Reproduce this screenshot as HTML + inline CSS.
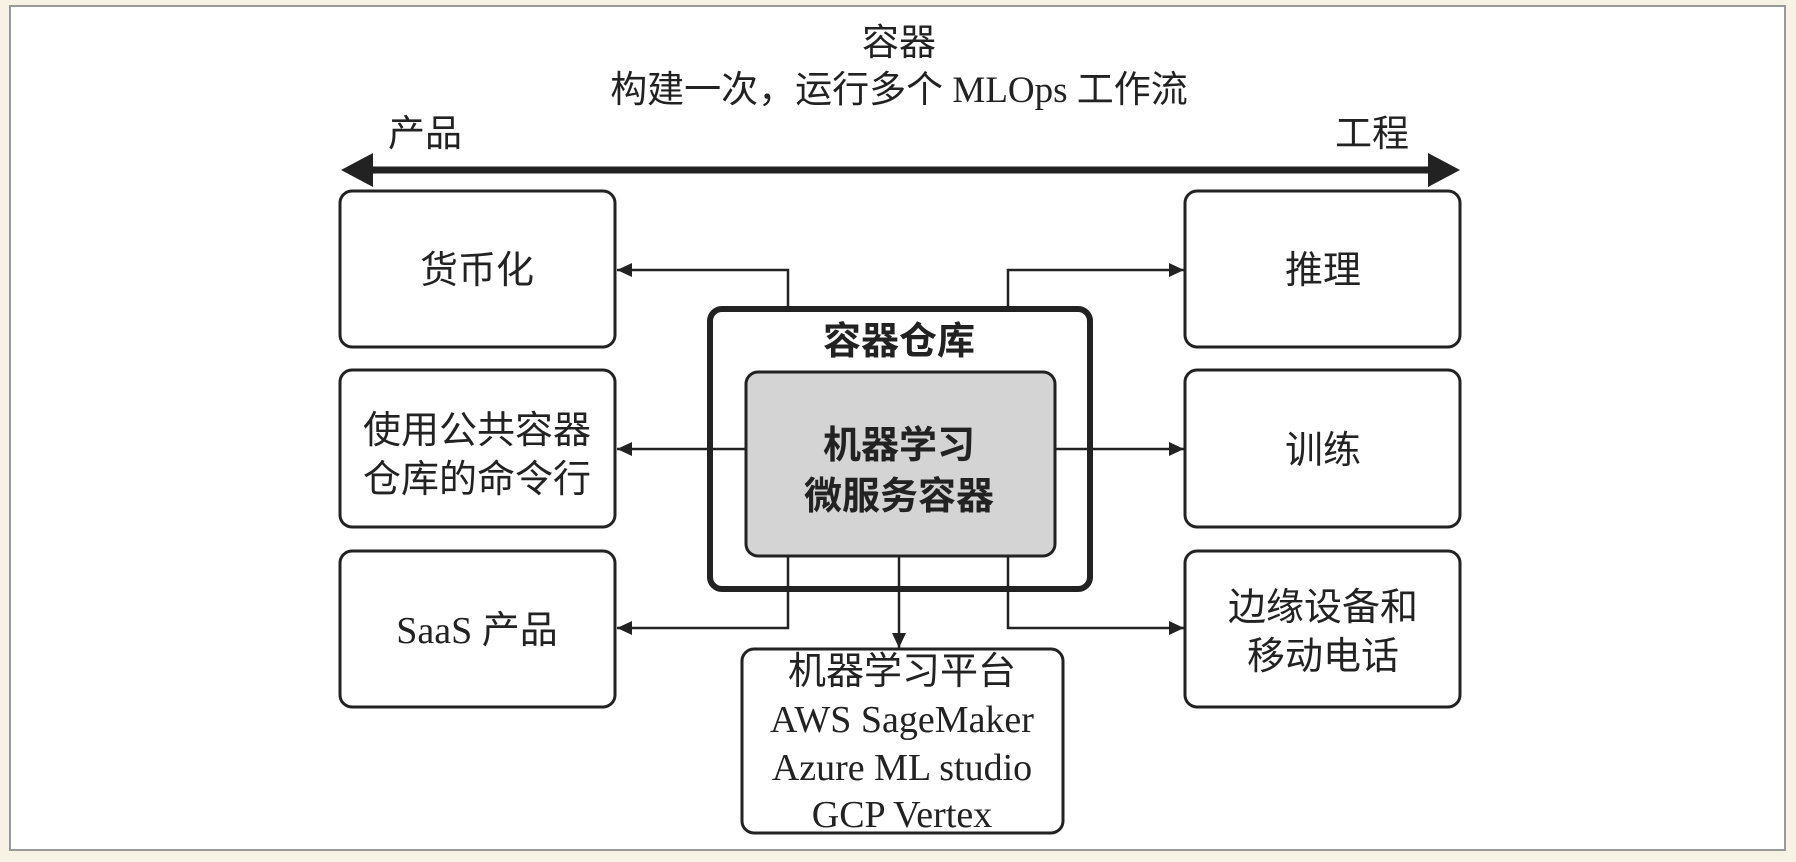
<!DOCTYPE html>
<html><head><meta charset="utf-8"><style>
html,body{margin:0;padding:0;background:#f6f3e4;}
svg{display:block}
text{font-family:"Liberation Serif","Noto Sans CJK SC",serif;fill:#222;}
</style></head><body>
<svg width="1796" height="862" viewBox="0 0 1796 862" xmlns="http://www.w3.org/2000/svg">
<defs>
<marker id="a" markerWidth="16" markerHeight="14" refX="15" refY="7" orient="auto" markerUnits="userSpaceOnUse"><path d="M0,0 L15,7 L0,14 z" fill="#222"/></marker>
</defs>
<rect x="10" y="6" width="1775" height="844" fill="#fff" stroke="#999" stroke-width="2"/>
<g text-anchor="middle" font-size="37">
<text x="899" y="55">容器</text>
<text x="899" y="102">构建一次，运行多个 MLOps 工作流</text>
<text x="425" y="146">产品</text>
<text x="1372" y="146">工程</text>
</g>
<line x1="370" y1="170" x2="1430" y2="170" stroke="#222" stroke-width="7"/>
<path d="M341,170 L373,153 L373,187 z" fill="#222"/>
<path d="M1460,170 L1428,153 L1428,187 z" fill="#222"/>
<g fill="#fff" stroke="#222" stroke-width="3">
<rect x="340" y="191" width="275" height="156" rx="12"/>
<rect x="340" y="370" width="275" height="157" rx="12"/>
<rect x="340" y="551" width="275" height="156" rx="12"/>
<rect x="1185" y="191" width="275" height="156" rx="12"/>
<rect x="1185" y="370" width="275" height="157" rx="12"/>
<rect x="1185" y="551" width="275" height="156" rx="12"/>
<rect x="742" y="649" width="321" height="184" rx="12"/>
<rect x="710" y="309" width="380" height="280" rx="12" stroke-width="6"/>
<rect x="746" y="372" width="309" height="184" rx="12" fill="#d4d4d4"/>
</g>
<g stroke="#222" stroke-width="2.5" fill="none">
<polyline points="788,307 788,270 617,270" marker-end="url(#a)"/>
<polyline points="1008,307 1008,270 1184,270" marker-end="url(#a)"/>
<polyline points="746,449 617,449" marker-end="url(#a)"/>
<polyline points="1055,449 1184,449" marker-end="url(#a)"/>
<polyline points="788,556 788,628 617,628" marker-end="url(#a)"/>
<polyline points="1008,556 1008,628 1184,628" marker-end="url(#a)"/>
<polyline points="899,556 899,648" marker-end="url(#a)"/>
</g>
<g text-anchor="middle" font-size="38">
<text x="477" y="283">货币化</text>
<text x="477" y="443">使用公共容器</text>
<text x="477" y="492">仓库的命令行</text>
<text x="477" y="643">SaaS 产品</text>
<text x="1323" y="283">推理</text>
<text x="1323" y="463">训练</text>
<text x="1323" y="620">边缘设备和</text>
<text x="1323" y="669">移动电话</text>
<text x="899" y="354" font-weight="bold" font-family="Liberation Sans,Noto Sans CJK SC,sans-serif">容器仓库</text>
<text x="899" y="458" font-weight="bold" font-family="Liberation Sans,Noto Sans CJK SC,sans-serif">机器学习</text>
<text x="899" y="509" font-weight="bold" font-family="Liberation Sans,Noto Sans CJK SC,sans-serif">微服务容器</text>
<text x="902" y="684">机器学习平台</text>
<text x="902" y="732">AWS SageMaker</text>
<text x="902" y="780">Azure ML studio</text>
<text x="902" y="827">GCP Vertex</text>
</g>
</svg>
</body></html>
